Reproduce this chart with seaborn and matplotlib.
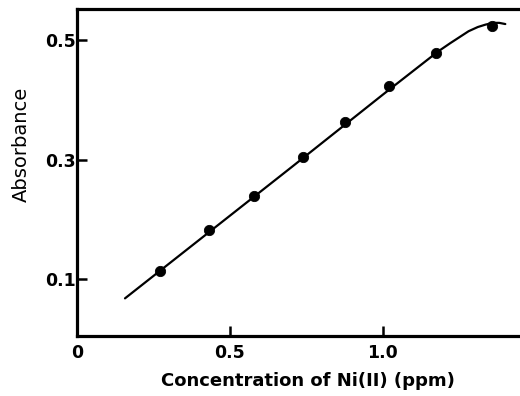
import matplotlib
matplotlib.use("Agg")
import matplotlib.pyplot as plt
import seaborn as sns
import pandas as pd

# measured data points
conc = [0.27, 0.43, 0.58, 0.74, 0.875, 1.02, 1.175, 1.355]
absorb = [0.113, 0.183, 0.240, 0.305, 0.363, 0.423, 0.478, 0.523]

# calibration curve
curve_x = [0.157, 0.40, 0.70, 1.00, 1.18, 1.22, 1.25, 1.28, 1.31, 1.335, 1.36, 1.38, 1.40]
curve_y = [0.068, 0.166, 0.287, 0.409, 0.481, 0.495, 0.505, 0.515, 0.522, 0.526, 0.529, 0.529, 0.527]

x_ticks = [0, 0.5, 1.0]
x_tick_labels = ["0", "0.5", "1.0"]
y_ticks = [0.1, 0.3, 0.5]
y_tick_labels = ["0.1", "0.3", "0.5"]

sns.set_style("ticks")
plt.rcParams['font.family'] = ['DejaVu Sans']

fig = plt.figure(figsize=(5.2, 3.96), dpi=100)
ax = fig.add_axes([0.148, 0.1515, 0.852, 0.8255])

df_curve = pd.DataFrame({"x": curve_x, "y": curve_y})
df_pts = pd.DataFrame({"x": conc, "y": absorb})
sns.lineplot(data=df_curve, x="x", y="y", ax=ax, color="black", linewidth=1.6, sort=False)
sns.scatterplot(data=df_pts, x="x", y="y", ax=ax, color="black", s=55, edgecolor="black", zorder=3)

ax.set_xlim(0, 1.448)
ax.set_ylim(0.005, 0.552)
ax.set_xticks(x_ticks)
ax.set_xticklabels(x_tick_labels, fontsize=12.5, fontweight="bold", color="black")
ax.set_yticks(y_ticks)
ax.set_yticklabels(y_tick_labels, fontsize=12.5, fontweight="bold", color="black")
ax.tick_params(axis="x", direction="in", length=7, width=1.8, colors="black", pad=6)
ax.tick_params(axis="y", direction="in", length=7, width=1.8, colors="black", pad=1)

ax.set_xlabel("Concentration of Ni(II) (ppm)", fontsize=13, fontweight="bold", color="black")
ax.xaxis.set_label_coords(0.521, -0.11)
ax.set_ylabel("Absorbance", fontsize=14, fontweight="medium", color="black")
ax.yaxis.set_label_coords(-0.105, 0.587)

for side in ["left", "bottom", "top"]:
    ax.spines[side].set_linewidth(2.3)
    ax.spines[side].set_color("black")
    ax.spines[side].set_visible(True)
ax.spines["right"].set_visible(False)

fig.savefig("out.png", dpi=100)
